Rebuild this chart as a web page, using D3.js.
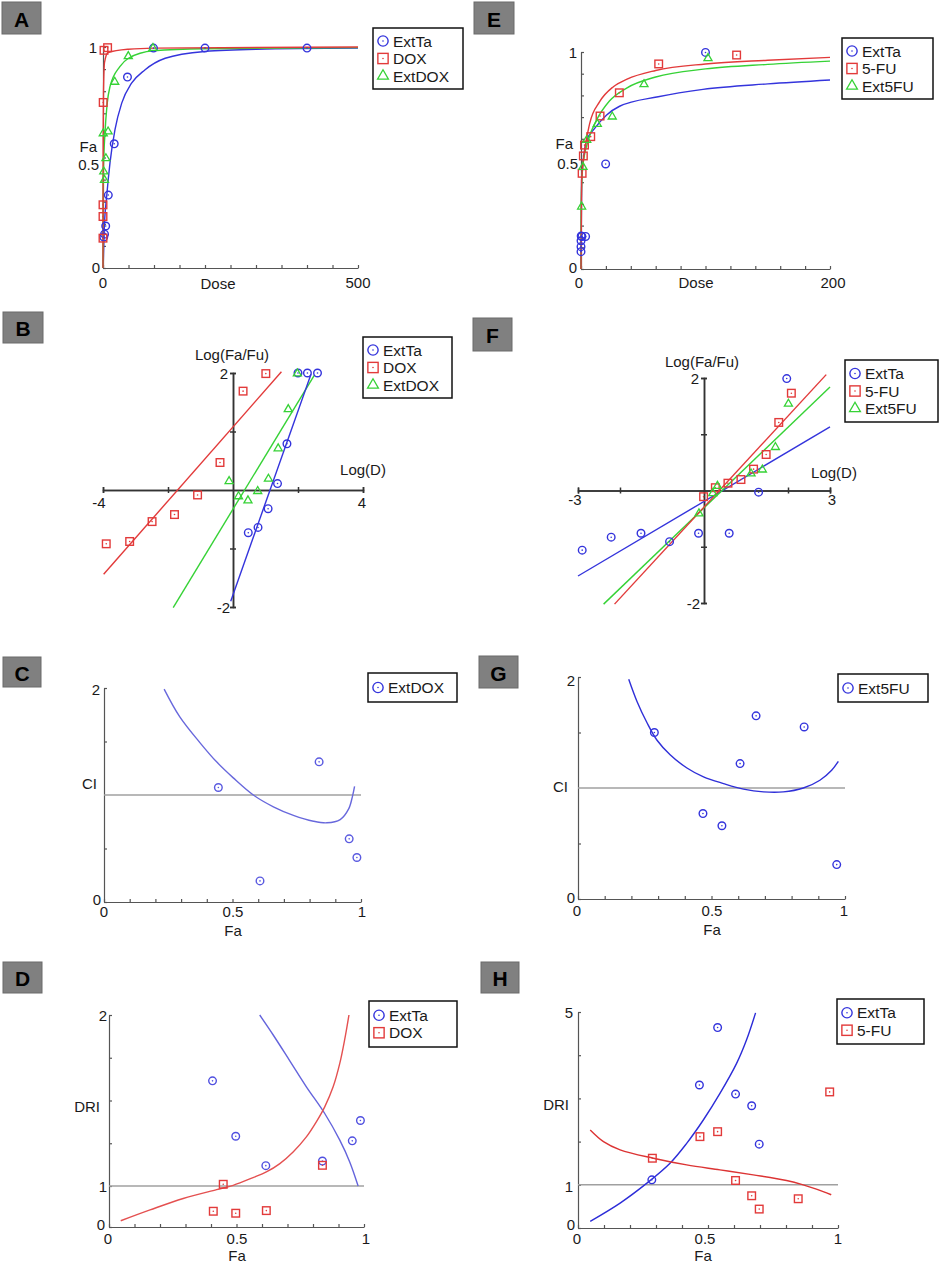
<!DOCTYPE html>
<html>
<head>
<meta charset="utf-8">
<script src="https://cdnjs.cloudflare.com/ajax/libs/d3/7.8.5/d3.min.js"></script>
<style>
  body { margin: 0; background: #fff; }
  svg { display: block; font-family: Arial, "Liberation Sans", sans-serif; }
</style>
</head>
<body>
<svg id="chart" width="941" height="1264"></svg>
<script>
// ---------------- data ----------------

// A: dose-effect, ExtTa / DOX / ExtDOX  [dose, Fa]
var aExtTaPts  = [[1.5,0.14],[3,0.153],[5.3,0.19],[10.4,0.33],[22,0.562],[48,0.864],[99,0.995],[200,0.995],[400,0.995]];
var aDoxPts    = [[0.0001,0.135],[0.003,0.233],[0.016,0.286],[0.4,0.749],[2,0.985],[9,0.997]];
var aExtDoxPts = [[0.5,0.609],[1.5,0.436],[2.9,0.398],[5.7,0.496],[10,0.617],[23,0.842],[49.6,0.958],[98,0.995]];
var aExtTaCurve  = [[0,0],[0.6,0.03],[2.5,0.176],[7.3,0.326],[13.7,0.476],[23.5,0.626],[36.7,0.746],[56,0.836],[82,0.896],[122,0.949],[200,0.98],[300,0.99],[500,0.995]];
var aDoxCurve    = [[0,0],[0.05,0.3],[0.3,0.6],[1,0.8],[3,0.93],[10,0.975],[50,0.99],[100,0.995],[500,1.0]];
var aExtDoxCurve = [[0,0],[0.3,0.3],[1,0.45],[3.9,0.611],[8,0.74],[13.7,0.821],[33,0.911],[50,0.949],[99,0.983],[200,0.992],[500,0.997]];

// E: dose-effect, ExtTa / 5-FU / Ext5FU  [dose, Fa]
var eExtTaPts  = [[0.001,0.08],[0.006,0.103],[0.03,0.13],[0.15,0.152],[0.74,0.15],[3.7,0.15],[19.8,0.484],[100,0.998]];
var e5FuPts    = [[0.9,0.441],[1.9,0.521],[2.8,0.571],[7.8,0.61],[15.3,0.705],[30.8,0.812],[62.4,0.945],[125,0.986]];
var eExt5FuPts = [[0.5,0.287],[1.6,0.47],[4.6,0.594],[13.1,0.668],[25.1,0.702],[50.6,0.851],[102,0.971]];
var eExtTaCurve  = [[0,0],[0.5,0.41],[4.6,0.594],[10,0.641],[20.6,0.71],[31,0.75],[62,0.794],[98,0.828],[150,0.853],[200,0.871]];
var e5FuCurve    = [[0,0],[0.5,0.41],[3,0.548],[7,0.671],[15,0.771],[26,0.84],[37,0.875],[60,0.915],[100,0.945],[150,0.962],[200,0.975]];
var eExt5FuCurve = [[0,0],[0.1,0.29],[1.4,0.47],[5.9,0.594],[12.6,0.687],[23,0.775],[37,0.835],[60,0.885],[100,0.922],[150,0.943],[200,0.958]];

// B: median-effect plot  [log(D), log(Fa/Fu)]
var bExtTaPts  = [[0.47,-0.73],[0.77,-0.64],[1.08,-0.32],[1.37,0.11],[1.66,0.79],[2.0,2.0],[2.29,2.0],[2.6,2.0]];
var bDoxPts    = [[-3.90,-0.92],[-3.18,-0.88],[-2.49,-0.54],[-1.80,-0.42],[-1.09,-0.085],[-0.40,0.47],[0.31,1.69],[1.01,1.99]];
var bExtDoxPts = [[-0.12,0.15],[0.17,-0.11],[0.46,-0.18],[0.76,-0.02],[1.09,0.19],[1.39,0.71],[1.70,1.38],[1.98,1.99]];
var bExtTaLine  = [[-0.07,-1.90],[2.40,1.98]];
var bDoxLine    = [[-3.98,-1.44],[1.49,2.02]];
var bExtDoxLine = [[-1.84,-2.01],[2.50,1.96]];

// F: median-effect plot  [log(D), log(Fa/Fu)]
var fExtTaPts  = [[-2.90,-1.06],[-2.21,-0.83],[-1.50,-0.76],[-0.82,-0.91],[-0.13,-0.76],[0.60,-0.76],[1.30,-0.03],[1.97,1.99]];
var f5FuPts    = [[-0.01,-0.11],[0.27,0.05],[0.57,0.13],[0.88,0.195],[1.18,0.38],[1.48,0.64],[1.78,1.21],[2.08,1.73]];
var fExt5FuPts = [[-0.12,-0.41],[0.21,-0.05],[0.32,0.08],[1.12,0.30],[1.39,0.37],[1.70,0.77],[2.01,1.54]];
var fExtTaLine  = [[-3.0,-1.52],[3.0,1.13]];
var f5FuLine    = [[-2.13,-2.02],[2.91,2.06]];
var fExt5FuLine = [[-2.39,-2.02],[3.0,1.84]];

// C / G: combination index  [Fa, CI]
var cExtDoxPts   = [[0.445,1.07],[0.607,0.197],[0.837,1.31],[0.954,0.59],[0.984,0.416]];
var cExtDoxCurve = [[0.234,1.99],[0.295,1.73],[0.373,1.49],[0.438,1.31],[0.503,1.16],[0.581,1.0],[0.659,0.89],[0.737,0.81],[0.815,0.755],[0.867,0.74],[0.919,0.77],[0.952,0.87],[0.967,0.99],[0.975,1.08]];
var gExt5FuPts   = [[0.286,1.50],[0.468,0.77],[0.539,0.66],[0.607,1.22],[0.667,1.65],[0.847,1.55],[0.969,0.31]];
var gExt5FuCurve = [[0.190,1.98],[0.221,1.78],[0.258,1.59],[0.296,1.43],[0.345,1.30],[0.408,1.18],[0.470,1.10],[0.545,1.04],[0.620,0.99],[0.695,0.965],[0.769,0.965],[0.844,1.00],[0.906,1.07],[0.950,1.16],[0.975,1.24]];

// D / H: dose-reduction index  [Fa, DRI]
var dExtTaPts   = [[0.406,1.615],[0.497,1.291],[0.615,1.119],[0.837,1.146],[0.954,1.264],[0.986,1.383]];
var dDoxPts     = [[0.409,0.384],[0.448,1.01],[0.497,0.336],[0.617,0.40],[0.837,1.121]];
var dExtTaCurve = [[0.591,2.0],[0.644,1.883],[0.709,1.732],[0.774,1.580],[0.846,1.424],[0.905,1.268],[0.944,1.141],[0.977,1.0]];
var dDoxCurve   = [[0.046,0.152],[0.161,0.416],[0.291,0.696],[0.422,0.912],[0.487,1.004],[0.565,1.049],[0.617,1.082],[0.670,1.131],[0.722,1.199],[0.774,1.287],[0.813,1.375],[0.846,1.463],[0.879,1.580],[0.905,1.717],[0.924,1.854],[0.941,2.0]];
var hExtTaPts   = [[0.284,1.115],[0.467,3.31],[0.537,4.64],[0.606,3.10],[0.668,2.83],[0.697,1.94]];
var h5FuPts     = [[0.286,1.615],[0.469,2.115],[0.537,2.23],[0.606,1.10],[0.668,0.746],[0.697,0.438],[0.847,0.677],[0.968,3.15]];
var hExtTaCurve = [[0.047,0.154],[0.162,0.577],[0.265,1.038],[0.354,1.50],[0.418,1.96],[0.482,2.50],[0.546,3.115],[0.610,3.81],[0.648,4.35],[0.683,4.98]];
var h5FuCurve   = [[0.047,2.27],[0.098,2.0],[0.162,1.81],[0.290,1.615],[0.418,1.46],[0.546,1.346],[0.674,1.23],[0.802,1.10],[0.866,1.0],[0.917,0.90],[0.974,0.77]];

// ---------------- helpers ----------------
var BLUE = '#3434dc', RED = '#e23a3a', GREEN = '#36d236';
var svg = d3.select('#chart');

function styleAxis(g, col, w) {
  g.selectAll('path, line').attr('stroke', col).attr('stroke-width', w);
  g.selectAll('text').remove();
}

// L-shaped frame: x axis at bottom, y axis at left, ticks pointing inwards
function lAxes(sx, sy, xt, yt) {
  var g1 = svg.append('g').attr('transform', 'translate(0,' + sy.range()[0] + ')')
    .call(d3.axisBottom(sx).tickValues(xt).tickSizeInner(-3).tickSizeOuter(0).tickFormat(''));
  var g2 = svg.append('g').attr('transform', 'translate(' + sx.range()[0] + ',0)')
    .call(d3.axisLeft(sy).tickValues(yt).tickSizeInner(-3).tickSizeOuter(0).tickFormat(''));
  styleAxis(g1, '#555', 1.2);
  styleAxis(g2, '#555', 1.2);
}

// axes crossing at the origin, ticks on both sides
function crossAxes(sx, sy, xt, yt) {
  [3, -3].forEach(function(s) {
    var g1 = svg.append('g').attr('transform', 'translate(0,' + sy(0) + ')')
      .call(d3.axisBottom(sx).tickValues(xt).tickSize(s).tickFormat(''));
    var g2 = svg.append('g').attr('transform', 'translate(' + sx(0) + ',0)')
      .call(d3.axisLeft(sy).tickValues(yt).tickSize(s).tickFormat(''));
    styleAxis(g1, '#333', 1.5);
    styleAxis(g2, '#333', 1.5);
  });
}

function txt(s, x, y, anchor, size, weight) {
  return svg.append('text')
    .attr('x', x).attr('y', y)
    .attr('text-anchor', anchor || 'middle')
    .attr('dominant-baseline', 'central')
    .attr('font-size', (size || 15) + 'px')
    .attr('font-weight', weight || 'normal')
    .attr('fill', '#1a1a1a')
    .text(s);
}

function curve(pts, sx, sy, color, smooth) {
  svg.append('path')
    .datum(pts)
    .attr('fill', 'none')
    .attr('stroke', color)
    .attr('stroke-width', 1.4)
    .attr('d', d3.line().x(function(d) { return sx(d[0]); }).y(function(d) { return sy(d[1]); })
      .curve(smooth ? d3.curveCatmullRom.alpha(0.5) : d3.curveMonotoneX));
}

function straight(pts, sx, sy, color) {
  svg.append('path')
    .datum(pts)
    .attr('fill', 'none')
    .attr('stroke', color)
    .attr('stroke-width', 1.4)
    .attr('d', d3.line().x(function(d) { return sx(d[0]); }).y(function(d) { return sy(d[1]); }));
}

function refLine(sx, sy, v) {
  var d = sx.domain();
  svg.append('line')
    .attr('x1', sx(d[0])).attr('x2', sx(d[d.length - 1]))
    .attr('y1', sy(v)).attr('y2', sy(v))
    .attr('stroke', '#a0a0a0').attr('stroke-width', 1.4);
}

function mark(kind, color, cx, cy, k) {
  k = k || 1;
  if (kind === 'tri') {
    svg.append('path')
      .attr('d', d3.symbol().type(d3.symbolTriangle).size(28 * k * k)())
      .attr('transform', 'translate(' + cx + ',' + cy + ')')
      .attr('fill', 'none').attr('stroke', color).attr('stroke-width', 1.3);
    return;
  }
  if (kind === 'circle') {
    svg.append('circle').attr('cx', cx).attr('cy', cy).attr('r', 3.8 * k)
      .attr('fill', 'none').attr('stroke', color).attr('stroke-width', 1.4);
  } else {
    var s = 7.6 * k;
    svg.append('rect').attr('x', cx - s / 2).attr('y', cy - s / 2).attr('width', s).attr('height', s)
      .attr('fill', 'none').attr('stroke', color).attr('stroke-width', 1.4);
  }
  svg.append('circle').attr('cx', cx).attr('cy', cy).attr('r', 0.8).attr('fill', color);
}

function scatter(pts, sx, sy, kind, color) {
  pts.forEach(function(d) { mark(kind, color, sx(d[0]), sy(d[1])); });
}

function legend(x, y, w, h, items) {
  svg.append('rect').attr('x', x).attr('y', y).attr('width', w).attr('height', h)
    .attr('fill', '#fff').attr('stroke', '#111').attr('stroke-width', 1.5);
  var gap = 17.5, top = y + (h - (items.length - 1) * gap) / 2;
  items.forEach(function(it, i) {
    var cy = top + i * gap;
    mark(it[1], it[2], x + 10, cy, 1.35);
    txt(it[0], x + 20, cy, 'start', 15.5);
  });
}

function letter(ch, x, y, w, h) {
  svg.append('rect').attr('x', x).attr('y', y).attr('width', w).attr('height', h)
    .attr('fill', '#808080').attr('stroke', '#6a6a6a').attr('stroke-width', 1);
  txt(ch, x + w / 2, y + h / 2 + 1, 'middle', 21, 'bold').attr('fill', '#000');
}

// ---------------- A ----------------
(function() {
  var sx = d3.scaleLinear().domain([0, 500]).range([103, 358]);
  var sy = d3.scaleLinear().domain([0, 1]).range([268, 47]);
  lAxes(sx, sy, d3.range(0, 501, 50), d3.range(0, 1.001, 0.1));
  curve(aExtTaCurve, sx, sy, BLUE);
  curve(aExtDoxCurve, sx, sy, GREEN);
  curve(aDoxCurve, sx, sy, RED);
  scatter(aExtTaPts, sx, sy, 'circle', BLUE);
  scatter(aDoxPts, sx, sy, 'square', RED);
  scatter(aExtDoxPts, sx, sy, 'tri', GREEN);
  txt('0', sx(0), 282); txt('500', sx(500), 282); txt('Dose', 218, 283);
  txt('1', 97, sy(1), 'end'); txt('0.5', 99, sy(0.5) + 7, 'end'); txt('0', 100, sy(0) - 1, 'end');
  txt('Fa', 97, 146, 'end');
  legend(373, 28, 90, 61, [['ExtTa', 'circle', BLUE], ['DOX', 'square', RED], ['ExtDOX', 'tri', GREEN]]);
  letter('A', 2, 2, 39, 32);
})();

// ---------------- E ----------------
(function() {
  var sx = d3.scaleLinear().domain([0, 200]).range([581, 830]);
  var sy = d3.scaleLinear().domain([0, 1]).range([269, 52]);
  lAxes(sx, sy, d3.range(0, 201, 20), d3.range(0, 1.001, 0.1));
  curve(eExtTaCurve, sx, sy, BLUE);
  curve(eExt5FuCurve, sx, sy, GREEN);
  curve(e5FuCurve, sx, sy, RED);
  scatter(eExtTaPts, sx, sy, 'circle', BLUE);
  scatter(e5FuPts, sx, sy, 'square', RED);
  scatter(eExt5FuPts, sx, sy, 'tri', GREEN);
  txt('0', 579, 282); txt('200', 833, 282); txt('Dose', 696, 282);
  txt('1', 577, sy(1), 'end'); txt('0.5', 578, sy(0.5) + 3, 'end'); txt('0', 577, 267, 'end');
  txt('Fa', 573, 143, 'end');
  legend(842, 38, 91, 61, [['ExtTa', 'circle', BLUE], ['5-FU', 'square', RED], ['Ext5FU', 'tri', GREEN]]);
  letter('E', 474, 2, 40, 32);
})();

// ---------------- B ----------------
(function() {
  var sx = d3.scaleLinear().domain([-4, 4]).range([103, 363]);
  var sy = d3.scaleLinear().domain([-2, 2]).range([607, 373]);
  crossAxes(sx, sy, [-4, -2, 2, 4], [-2, -1, 1, 2]);
  straight(bDoxLine, sx, sy, RED);
  straight(bExtDoxLine, sx, sy, GREEN);
  straight(bExtTaLine, sx, sy, BLUE);
  scatter(bExtTaPts, sx, sy, 'circle', BLUE);
  scatter(bDoxPts, sx, sy, 'square', RED);
  scatter(bExtDoxPts, sx, sy, 'tri', GREEN);
  txt('-4', 99, 502); txt('4', 362, 502);
  txt('2', 228, 373, 'end'); txt('-2', 230, 607, 'end');
  txt('Log(Fa/Fu)', 232, 354); txt('Log(D)', 363, 469);
  legend(363, 337, 89, 61, [['ExtTa', 'circle', BLUE], ['DOX', 'square', RED], ['ExtDOX', 'tri', GREEN]]);
  letter('B', 3, 312, 40, 31);
})();

// ---------------- F ----------------
(function() {
  var sx = d3.scaleLinear().domain([-3, 3]).range([578, 830]);
  var sy = d3.scaleLinear().domain([-2, 2]).range([603, 378]);
  crossAxes(sx, sy, [-3, -2, 2, 3], [-2, -1, 1, 2]);
  straight(fExtTaLine, sx, sy, BLUE);
  straight(fExt5FuLine, sx, sy, GREEN);
  straight(f5FuLine, sx, sy, RED);
  scatter(fExtTaPts, sx, sy, 'circle', BLUE);
  scatter(f5FuPts, sx, sy, 'square', RED);
  scatter(fExt5FuPts, sx, sy, 'tri', GREEN);
  txt('-3', 575, 499); txt('3', 832, 499);
  txt('2', 699, 378, 'end'); txt('-2', 700, 603, 'end');
  txt('Log(Fa/Fu)', 702, 361); txt('Log(D)', 834, 472);
  legend(845, 360, 93, 62, [['ExtTa', 'circle', BLUE], ['5-FU', 'square', RED], ['Ext5FU', 'tri', GREEN]]);
  letter('F', 473, 318, 39, 33);
})();

// ---------------- C ----------------
(function() {
  var sx = d3.scaleLinear().domain([0, 1]).range([104, 361]);
  var sy = d3.scaleLinear().domain([0, 2]).range([902, 688]);
  lAxes(sx, sy, d3.range(0, 1.001, 0.1), [0, 0.5, 1.5, 2]);
  refLine(sx, sy, 1);
  curve(cExtDoxCurve, sx, sy, '#6868dc', true);
  scatter(cExtDoxPts, sx, sy, 'circle', '#5a5ae0');
  txt('0', 104, 911); txt('0.5', 233, 911); txt('1', 362, 911); txt('Fa', 233, 930);
  txt('2', 100, 689, 'end'); txt('0', 101, 899, 'end'); txt('CI', 97, 783, 'end');
  legend(368, 673, 89, 29, [['ExtDOX', 'circle', '#3434dc']]);
  letter('C', 3, 657, 38, 30);
})();

// ---------------- G ----------------
(function() {
  var sx = d3.scaleLinear().domain([0, 1]).range([578, 845]);
  var sy = d3.scaleLinear().domain([0, 2]).range([899, 677]);
  lAxes(sx, sy, d3.range(0, 1.001, 0.1), [0, 0.5, 1.5, 2]);
  refLine(sx, sy, 1);
  curve(gExt5FuCurve, sx, sy, '#2f2fd8', true);
  scatter(gExt5FuPts, sx, sy, 'circle', BLUE);
  txt('0', 577, 910); txt('0.5', 712, 910); txt('1', 844, 910); txt('Fa', 712, 929);
  txt('2', 575, 680, 'end'); txt('0', 575, 897, 'end'); txt('CI', 568, 786, 'end');
  legend(838, 674, 90, 28, [['Ext5FU', 'circle', BLUE]]);
  letter('G', 479, 656, 39, 32);
})();

// ---------------- D ----------------
(function() {
  var sx = d3.scaleLinear().domain([0, 1]).range([109, 364]);
  var sy = d3.scaleLinear().domain([0, 1, 2]).range([1227, 1186, 1015]);
  lAxes(sx, sy, d3.range(0, 1.001, 0.1), [0, 1, 1.25, 1.5, 1.75, 2]);
  refLine(sx, sy, 1);
  curve(dExtTaCurve, sx, sy, '#6464dc', true);
  curve(dDoxCurve, sx, sy, '#e45050', true);
  scatter(dExtTaPts, sx, sy, 'circle', '#5050e0');
  scatter(dDoxPts, sx, sy, 'square', RED);
  txt('0', 108, 1238); txt('0.5', 237, 1238); txt('1', 366, 1238); txt('Fa', 237, 1255);
  txt('2', 107, 1015, 'end'); txt('1', 107, 1186, 'end'); txt('0', 105, 1224, 'end');
  txt('DRI', 100, 1106, 'end');
  legend(369, 1001, 88, 46, [['ExtTa', 'circle', BLUE], ['DOX', 'square', RED]]);
  letter('D', 3, 962, 39, 31);
})();

// ---------------- H ----------------
(function() {
  var sx = d3.scaleLinear().domain([0, 1]).range([578, 838]);
  var sy = d3.scaleLinear().domain([0, 5]).range([1228, 1012]);
  lAxes(sx, sy, d3.range(0, 1.001, 0.1), [0, 1, 2, 3, 4, 5]);
  refLine(sx, sy, 1);
  curve(hExtTaCurve, sx, sy, '#2c2cd8', true);
  curve(h5FuCurve, sx, sy, '#dc3434', true);
  scatter(hExtTaPts, sx, sy, 'circle', BLUE);
  scatter(h5FuPts, sx, sy, 'square', RED);
  txt('0', 577, 1238); txt('0.5', 705, 1238); txt('1', 838, 1238); txt('Fa', 703, 1255);
  txt('5', 573, 1012, 'end'); txt('1', 573, 1186, 'end'); txt('0', 575, 1224, 'end');
  txt('DRI', 569, 1104, 'end');
  legend(837, 999, 87, 45, [['ExtTa', 'circle', BLUE], ['5-FU', 'square', RED]]);
  letter('H', 481, 962, 38, 31);
})();
</script>
</body>
</html>
